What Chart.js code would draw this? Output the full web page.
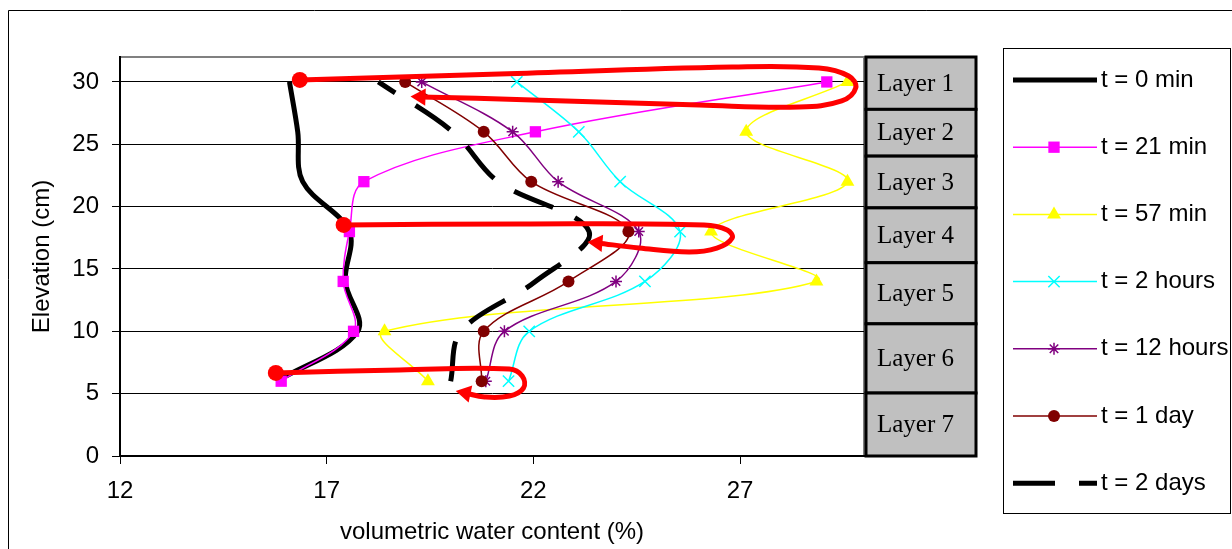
<!DOCTYPE html>
<html>
<head>
<meta charset="utf-8">
<script src="https://cdn.jsdelivr.net/npm/chart.js@4.4.1/dist/chart.umd.min.js"></script>
<style>
  body { margin: 0; background: #fff; }
  canvas { display: block; }
</style>
</head>
<body>
<canvas id="myChart" width="1232" height="549"></canvas>
<script>
const ctx = document.getElementById('myChart');

// sensor elevations (cm)
const elevation = [30, 26, 22, 18, 14, 10, 6];

// volumetric water content (%) at each elevation
const t0min    = [16.1, 16.3, 16.42, 17.55, 17.45, 17.75, 15.8];
const t21min   = [29.1, 22.05, 17.9, 17.55, 17.4, 17.65, 15.9];
const t57min   = [29.6, 27.15, 29.6, 26.3, 28.85, 18.4, 19.45];
const t2hours  = [21.6, 23.1, 24.1, 25.55, 24.7, 21.9, 21.4];
const t12hours = [19.3, 21.5, 22.6, 24.55, 24.0, 21.3, 20.85];
const t1day    = [18.9, 20.8, 21.95, 24.3, 22.85, 20.8, 20.75];
const t2days   = [18.25, 20.05, 21.15, 23.35, 22.05, 20.25, 20.0];

const seriesNames = ['t = 0 min', 't = 21 min', 't = 57 min', 't = 2 hours', 't = 12 hours', 't = 1 day', 't = 2 days'];

const xTicks = [12, 17, 22, 27];
const yTicks = [0, 5, 10, 15, 20, 25, 30];

// soil layers, bounds in cm (top of layer 1 ... bottom of layer 7)
const layerNames = ['Layer 1', 'Layer 2', 'Layer 3', 'Layer 4', 'Layer 5', 'Layer 6', 'Layer 7'];
const layerBounds = [32, 27.8, 24.05, 19.9, 15.5, 10.6, 5.05, 0];

// red hand drawn arrows (wetting front), water content / elevation
const arrow1X = [16.35, 21.18, 26.81, 28.91, 29.63, 29.80, 29.46, 28.43, 26.01, 21.98, 19.27];
const arrow1Y = [30.16, 30.64, 31.20, 31.12, 30.48, 29.52, 28.48, 27.99, 28.15, 28.56, 28.80];
const arrow2X = [17.41, 21.66, 26.13, 26.69, 26.81, 26.44, 25.77, 24.56, 23.55];
const arrow2Y = [18.53, 18.61, 18.53, 18.13, 17.49, 16.68, 16.36, 16.68, 17.09];
const arrow3X = [15.77, 18.76, 21.42, 21.73, 21.76, 21.42, 20.82, 20.36];
const arrow3Y = [6.66, 6.90, 6.98, 6.42, 5.45, 4.81, 4.73, 5.05];


function series(i, xs, style) {
  return Object.assign({
    label: seriesNames[i],
    data: elevation.map((y, k) => ({ x: xs[k], y: y })),
    showLine: true,
    tension: 0.35,
    borderWidth: 1.5,
    pointBorderWidth: 1.5,
    order: 8 - i
  }, style);
}

function arrow(xs, ys, rot) {
  const n = xs.length;
  return {
    label: '',
    data: xs.map((x, k) => ({ x: x, y: ys[k] })),
    showLine: true,
    tension: 0.4,
    borderColor: '#ff0000',
    backgroundColor: '#ff0000',
    borderWidth: 5,
    pointRadius: xs.map((x, k) => k == 0 ? 8 : (k == n - 1 ? 10 : 0)),
    pointStyle: xs.map((x, k) => k == n - 1 ? 'triangle' : 'circle'),
    pointRotation: xs.map((x, k) => k == n - 1 ? rot : 0),
    pointBorderWidth: 0,
    order: 0
  };
}

const datasets = [
  series(0, t0min,   { borderColor: '#000', backgroundColor: '#000', borderWidth: 5, pointRadius: 0 }),
  series(1, t21min,  { borderColor: '#ff00ff', backgroundColor: '#ff00ff', pointStyle: 'rect', pointRadius: 8, pointBorderWidth: 0 }),
  series(2, t57min,  { borderColor: '#ffff00', backgroundColor: '#ffff00', pointStyle: 'triangle', pointRadius: 8, pointBorderWidth: 0 }),
  series(3, t2hours, { borderColor: '#00ffff', backgroundColor: '#00ffff', pointStyle: 'crossRot', pointRadius: 8 }),
  series(4, t12hours,{ borderColor: '#800080', backgroundColor: '#800080', pointStyle: 'star', pointRadius: 6 }),
  series(5, t1day,   { borderColor: '#800000', backgroundColor: '#800000', pointStyle: 'circle', pointRadius: 6, pointBorderWidth: 0 }),
  series(6, t2days,  { borderColor: '#000', backgroundColor: '#000', borderWidth: 5, borderDash: [42, 24], borderDashOffset: 22, pointRadius: 0 }),
  arrow(arrow1X, arrow1Y, -88),
  arrow(arrow2X, arrow2Y, -85),
  arrow(arrow3X, arrow3Y, -78)
];

// white page, outer frame and grey plot frame
const framePlugin = {
  id: 'frame',
  beforeDraw(chart) {
    const c = chart.ctx;
    c.save();
    c.fillStyle = '#fff';
    c.fillRect(0, 0, chart.width, chart.height);
    c.strokeStyle = '#000';
    c.lineWidth = 1;
    c.beginPath();
    c.moveTo(8.5, chart.height);
    c.lineTo(8.5, 10.5);
    c.lineTo(chart.width, 10.5);
    c.stroke();
    const a = chart.chartArea;
    c.strokeStyle = '#808080';
    c.lineWidth = 2;
    c.beginPath();
    c.moveTo(a.left, a.top);
    c.lineTo(a.right, a.top);
    c.lineTo(a.right, a.bottom);
    c.stroke();
    c.restore();
  }
};

// layer boxes right of the plot + legend box
const sidePlugin = {
  id: 'side',
  afterDraw(chart) {
    const c = chart.ctx;
    const y = chart.scales.y;
    const a = chart.chartArea;
    c.save();
    // layers
    const bx = a.right + 2, bw = 110;
    c.font = '25px "Liberation Serif", "Times New Roman", serif';
    c.textBaseline = 'middle';
    c.textAlign = 'left';
    for (let i = 0; i < layerNames.length; i++) {
      const top = y.getPixelForValue(layerBounds[i]);
      const bot = y.getPixelForValue(layerBounds[i + 1]);
      c.fillStyle = '#c0c0c0';
      c.fillRect(bx, top, bw, bot - top);
      c.strokeStyle = '#000';
      c.lineWidth = 3;
      c.strokeRect(bx, top, bw, bot - top);
      c.fillStyle = '#000';
      c.fillText(layerNames[i], bx + 11, (top + bot) / 2 + 1);
    }

    // legend
    c.lineWidth = 1;
    c.strokeStyle = '#000';
    c.strokeRect(1003.5, 48.5, 227, 465);
    c.font = '24px "Liberation Sans", Arial, sans-serif';
    c.textBaseline = 'middle';
    for (let i = 0; i < 7; i++) {
      const ds = chart.data.datasets[i];
      const ly = 80 + i * 67.2;
      c.save();
      c.strokeStyle = ds.borderColor;
      c.lineWidth = ds.borderWidth;
      c.setLineDash(ds.borderDash || []);
      c.beginPath();
      c.moveTo(1013, ly);
      c.lineTo(1097, ly);
      c.stroke();
      c.restore();
      if (ds.pointRadius > 0) {
        c.fillStyle = ds.backgroundColor;
        c.strokeStyle = ds.borderColor;
        c.lineWidth = ds.pointBorderWidth;
        Chart.helpers.drawPoint(c, {
          pointStyle: ds.pointStyle, radius: ds.pointRadius, rotation: 0, borderWidth: ds.pointBorderWidth
        }, 1054, ly);
      }
      c.fillStyle = '#000';
      c.fillText(ds.label, 1101, ly);
    }
    c.restore();
  }
};

const cfg = {
  type: 'scatter',
  data: { datasets: datasets },
  options: {
    responsive: false,
    animation: false,
    devicePixelRatio: 1,
    layout: { padding: { left: 0, top: 57, right: 368, bottom: 0 } },
    plugins: { legend: { display: false }, tooltip: { enabled: false } },
    scales: {
      x: {
        type: 'linear',
        min: 12,
        max: 30,
        afterBuildTicks: s => { s.ticks = xTicks.map(v => ({ value: v })); },
        afterFit: s => { s.height = 93; },
        grid: { drawOnChartArea: false, tickLength: 8, color: '#000' },
        border: { color: '#000', width: 2 },
        ticks: { padding: 13, color: '#000', font: { size: 24 } },
        title: {
          display: true,
          text: 'volumetric water content (%)',
          color: '#000',
          font: { size: 24 },
          padding: { top: 0, bottom: 2 }
        }
      },
      y: {
        type: 'linear',
        min: 0,
        max: 32,
        afterBuildTicks: s => { s.ticks = yTicks.map(v => ({ value: v })); },
        afterFit: s => { s.width = 120; },
        grid: { color: '#000', lineWidth: 1, tickLength: 8 },
        border: { color: '#000', width: 2 },
        ticks: { padding: 13, color: '#000', font: { size: 24 } },
        title: {
          display: true,
          text: 'Elevation (cm)',
          color: '#000',
          font: { size: 24 },
          padding: { top: 27.6, bottom: 0 }
        }
      }
    }
  },
  plugins: [framePlugin, sidePlugin]
};

Chart.defaults.font.family = '"Liberation Sans", Arial, sans-serif';
Chart.defaults.color = '#000';

let cc = new Chart(ctx, cfg);
</script>
</body>
</html>
